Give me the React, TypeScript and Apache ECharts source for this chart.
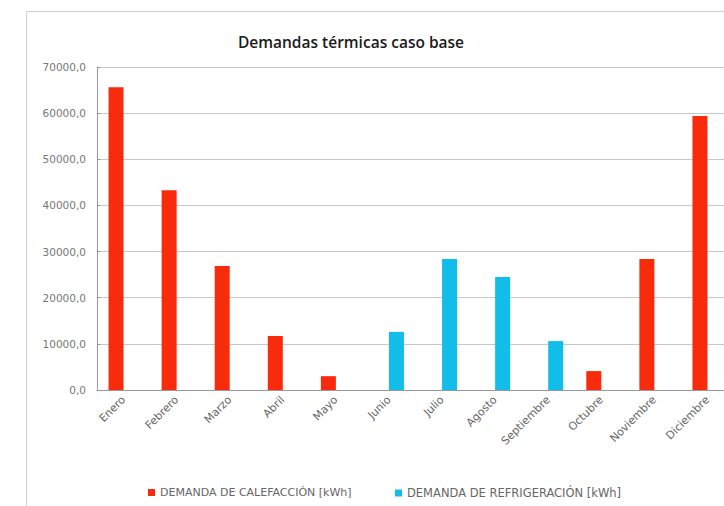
import React, { useEffect, useRef } from "react";
import * as echarts from "echarts";

const months = [
  "Enero", "Febrero", "Marzo", "Abril", "Mayo", "Junio",
  "Julio", "Agosto", "Septiembre", "Octubre", "Noviembre", "Diciembre",
];
const heating = [65600, 43300, 26900, 11700, 3000, 0, 0, 0, 0, 4100, 28400, 59400];
const cooling = [0, 0, 0, 0, 0, 12600, 28400, 24500, 10600, 0, 0, 0];
const seriesNames = ["DEMANDA DE CALEFACCIÓN [kWh]", "DEMANDA DE REFRIGERACIÓN [kWh]"];
const titleText = "Demandas térmicas caso base";

export default function App() {
  const ref = useRef<HTMLDivElement>(null);
  useEffect(() => {
    document.body.style.margin = "0";
    if (!ref.current) return;
    const chart = echarts.init(ref.current, undefined, { renderer: "svg" });
    const font = "DejaVu Sans";
    chart.setOption({
      animation: false,
      backgroundColor: "#ffffff",
      title: {
        text: titleText,
        left: 346,
        top: 29,
        textAlign: "center",
        textStyle: { fontFamily: "Open Sans", fontSize: 15.5, fontWeight: 600, color: "#1a1a1a" },
      },
      graphic: [
        {
          type: "rect",
          shape: { x: 26.5, y: 11.5, width: 900, height: 700 },
          style: { fill: "none", stroke: "#cfcfcf", lineWidth: 1 },
          silent: true,
          z: -1,
        },
      ],
      legend: [
        {
          data: [seriesNames[0]],
          left: 143,
          top: 482,
          itemWidth: 7,
          itemHeight: 7,
          itemGap: 4,
          icon: "rect",
          textStyle: { fontFamily: font, fontSize: 11, color: "#666" },
        },
        {
          data: [seriesNames[1]],
          left: 390,
          top: 482,
          itemWidth: 7,
          itemHeight: 7,
          icon: "rect",
          textStyle: { fontFamily: font, fontSize: 11.5, color: "#666" },
        },
      ],
      grid: { left: 97, top: 67, bottom: 116, right: 26, containLabel: false },
      xAxis: {
        type: "category",
        data: months,
        axisLine: { lineStyle: { color: "#999" } },
        axisTick: { show: false },
        axisLabel: {
          rotate: 45,
          interval: 0,
          margin: 8,
          fontFamily: font,
          fontSize: 11,
          color: "#666",
        },
      },
      yAxis: {
        type: "value",
        min: 0,
        max: 70000,
        interval: 10000,
        axisLine: { show: true, lineStyle: { color: "#999" } },
        axisTick: { show: true, inside: true, length: 3, lineStyle: { color: "#999" } },
        splitLine: { lineStyle: { color: "#c8c8c8" } },
        axisLabel: {
          margin: 11,
          fontFamily: font,
          fontSize: 10.5,
          color: "#777",
          formatter: (v: number) => v.toFixed(1).replace(".", ","),
        },
      },
      series: [
        {
          name: seriesNames[0],
          type: "bar",
          data: heating,
          barWidth: 15,
          barGap: "0%",
          itemStyle: { color: "#F82C0C" },
        },
        {
          name: seriesNames[1],
          type: "bar",
          data: cooling,
          barWidth: 15,
          itemStyle: { color: "#12BDE9" },
        },
      ],
    });
    return () => chart.dispose();
  }, []);
  return (
    <div style={{ width: 724, height: 506, overflow: "hidden", position: "relative" }}>
      <div ref={ref} style={{ width: 760, height: 506 }} />
    </div>
  );
}
